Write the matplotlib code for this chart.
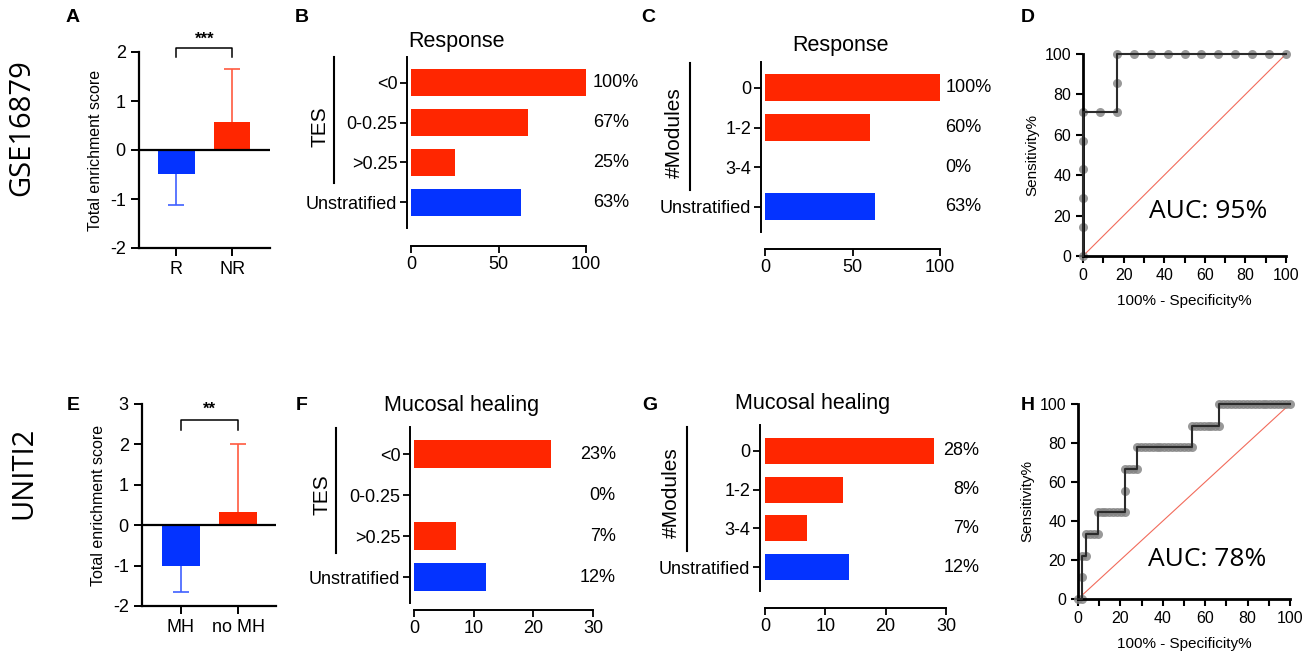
import numpy as np
import matplotlib.pyplot as plt
from matplotlib.lines import Line2D
from matplotlib.ticker import MultipleLocator

plt.rcParams['font.family'] = 'Liberation Sans'
plt.rcParams['axes.unicode_minus'] = False

BLUE = '#0433ff'
RED = '#ff2600'

# ---- panel A / E : total enrichment score ----
a_groups = ['R', 'NR']
a_means = [-0.48, 0.57]
a_err_lo = [0.65, 0.0]
a_err_hi = [0.0, 1.08]

e_groups = ['MH', 'no MH']
e_means = [-1.0, 0.32]
e_err_lo = [0.65, 0.0]
e_err_hi = [0.0, 1.68]

# ---- panels B, C, F, G : percentage responders ----
b_cats = ['<0', '0-0.25', '>0.25', 'Unstratified']
b_vals = [100, 67, 25, 63]
b_labels = ['100%', '67%', '25%', '63%']

c_cats = ['0', '1-2', '3-4', 'Unstratified']
c_vals = [100, 60, 0, 63]
c_labels = ['100%', '60%', '0%', '63%']

f_cats = ['<0', '0-0.25', '>0.25', 'Unstratified']
f_vals = [23, 0, 7, 12]
f_labels = ['23%', '0%', '7%', '12%']

g_cats = ['0', '1-2', '3-4', 'Unstratified']
g_vals = [28, 13, 7, 14]
g_labels = ['28%', '8%', '7%', '12%']

# ---- panels D, H : ROC curves ----
d_fpr = [0, 0, 0, 0, 0, 0, 8.3, 16.7, 16.7, 16.7, 25, 33.3, 41.7, 50, 58.3,
         66.7, 75, 83.3, 91.7, 100]
d_tpr = [0, 14.3, 28.6, 42.9, 57.1, 71.4, 71.4, 71.4, 85.7, 100, 100, 100,
         100, 100, 100, 100, 100, 100, 100, 100]

# counts of false / true positives (54 negatives, 9 positives)
h_fp = [0, 1, 1, 1, 2, 2, 3, 4, 5,
        5, 6, 7, 8, 9, 10, 11, 12,
        12, 12, 13, 14, 15,
        15, 16, 17, 18, 19, 20, 21, 22, 23, 24, 25, 26, 27, 28, 29,
        29, 30, 31, 32, 33, 34, 35, 36,
        36, 37, 38, 39, 40, 41, 42, 43, 44, 45, 46, 47, 48, 49, 50, 51, 52, 53, 54]
h_tp = [0, 0, 1, 2, 2, 3, 3, 3, 3,
        4, 4, 4, 4, 4, 4, 4, 4,
        5, 6, 6, 6, 6,
        7, 7, 7, 7, 7, 7, 7, 7, 7, 7, 7, 7, 7, 7, 7,
        8, 8, 8, 8, 8, 8, 8, 8,
        9, 9, 9, 9, 9, 9, 9, 9, 9, 9, 9, 9, 9, 9, 9, 9, 9, 9, 9]
h_neg, h_pos = 54, 9

W, H = 1314, 659
fig = plt.figure(figsize=(W / 100, H / 100), dpi=100)


def box(l, t, r, b):
    return [l / W, 1 - b / H, (r - l) / W, (b - t) / H]


def fx(x):
    return x / W


def fy(y):
    return 1 - y / H


def score_panel(rect, groups, means, lo, hi, ylim, xlim, stars, br_y, st_y):
    ax = fig.add_axes(rect)
    cols = [BLUE, RED]
    ecols = ['#4060ff', '#ff5a40']
    x = np.arange(len(groups))
    for i in x:
        eb = ax.errorbar(i, means[i], yerr=[[lo[i]], [hi[i]]], color=ecols[i],
                         lw=1.2, capsize=6, capthick=1.2, zorder=1)
        # only keep the cap at the end of the one-sided whisker
        caps = eb[1]
        if lo[i] == 0:
            caps[0].set_visible(False)
        if hi[i] == 0:
            caps[1].set_visible(False)
    ax.bar(x, means, width=0.66, color=cols, zorder=2)
    ax.axhline(0, color='black', lw=1.6, zorder=3)
    ax.set_xlim(*xlim)
    ax.set_ylim(*ylim)
    ax.set_xticks(x)
    ax.set_xticklabels(groups, fontsize=13)
    ax.set_yticks(np.arange(ylim[0], ylim[1] + 1))
    ax.tick_params(labelsize=13, width=1.4, length=6)
    for s in ['top', 'right']:
        ax.spines[s].set_visible(False)
    for s in ['left', 'bottom']:
        ax.spines[s].set_linewidth(1.6)
    ax.set_ylabel('Total enrichment score', fontsize=11.5, labelpad=5)
    ax.plot([0, 0, 1, 1], [br_y[0], br_y[1], br_y[1], br_y[0]], color='black',
            lw=1.1, clip_on=False)
    ax.text(0.5, st_y, stars, ha='center', va='center', fontsize=12,
            fontweight='bold', clip_on=False)
    return ax


score_panel(box(139, 52, 270, 248), a_groups, a_means, a_err_lo, a_err_hi,
            (-2, 2), (-0.67, 1.68), '***', (1.9, 2.08), 2.25)
score_panel(box(142, 404, 276, 606), e_groups, e_means, e_err_lo, e_err_hi,
            (-2, 3), (-0.67, 1.66), '**', (2.36, 2.6), 2.88)


def pct_panel(rect, cats, vals, labels, xmax, xticks, xleft, ylim, off_px,
              lab_x, ha, bar_h):
    ax = fig.add_axes(rect)
    y = np.arange(len(cats))
    cols = [RED] * (len(cats) - 1) + [BLUE]
    ax.barh(y, vals, height=bar_h, color=cols)
    for yi, lab in zip(y, labels):
        ax.text(lab_x, yi, lab, ha=ha, va='center', fontsize=13, clip_on=False)
    ax.set_xlim(xleft, xmax)
    ax.set_ylim(*ylim)
    ax.set_yticks(y)
    ax.set_yticklabels(cats, fontsize=13)
    ax.set_xticks(xticks)
    ax.tick_params(labelsize=13, width=1.3, length=5, pad=2)
    for s in ['top', 'right']:
        ax.spines[s].set_visible(False)
    for s in ['left', 'bottom']:
        ax.spines[s].set_linewidth(1.4)
    ax.spines['bottom'].set_bounds(0, xmax)
    ax.spines['bottom'].set_position(('outward', off_px * 0.72))
    return ax


pct_panel(box(407, 57, 586, 228), b_cats, b_vals, b_labels, 100, [0, 50, 100],
          -2.29, (3.65, -0.65), 18, 104, 'left', 0.68)
pct_panel(box(761, 62, 940, 232), c_cats, c_vals, c_labels, 100, [0, 50, 100],
          -2.29, (3.63, -0.65), 17, 103, 'left', 0.68)
pct_panel(box(410, 427, 593, 603), f_cats, f_vals, f_labels, 30, [0, 10, 20, 30],
          -0.67, (3.63, -0.66), 7, 33.8, 'right', 0.68)
pct_panel(box(760, 425, 946, 591), g_cats, g_vals, g_labels, 30, [0, 10, 20, 30],
          -0.83, (3.62, -0.67), 17, 35.5, 'right', 0.67)

# titles and group brackets
fig.text(fx(457), fy(42), 'Response', ha='center', va='center', fontsize=15.5)
fig.text(fx(840), fy(46), 'Response', ha='center', va='center', fontsize=15.5)
fig.text(fx(462), fy(405), 'Mucosal healing', ha='center', va='center', fontsize=15.5)
fig.text(fx(813), fy(403), 'Mucosal healing', ha='center', va='center', fontsize=15.5)

for x, y1, y2, lab, tx, ty in [(334, 57, 183, 'TES', 320, 127),
                               (690, 63, 190, '#Modules', 674, 133),
                               (336, 428, 553, 'TES', 322, 495),
                               (687, 427, 551, '#Modules', 671, 493)]:
    fig.add_artist(Line2D([fx(x), fx(x)], [fy(y1), fy(y2)], color='black', lw=1.5))
    fig.text(fx(tx), fy(ty), lab, rotation=90, ha='center', va='center', fontsize=15)


def roc_panel(rect, fpr, tpr, auc, auc_xy):
    ax = fig.add_axes(rect)
    ax.plot([0, 100], [0, 100], color='#f26b5b', lw=0.8, zorder=1)
    ax.plot(fpr, tpr, 'o', color='#808080', alpha=0.8, ms=6.5, mec='none',
            clip_on=False, zorder=2)
    ax.plot(fpr, tpr, '-', color='#2b2b2b', lw=1.5, clip_on=False, zorder=3)
    ax.set_xlim(0, 100)
    ax.set_ylim(0, 100)
    ax.xaxis.set_major_locator(MultipleLocator(20))
    ax.xaxis.set_minor_locator(MultipleLocator(10))
    ax.yaxis.set_major_locator(MultipleLocator(20))
    ax.tick_params(which='both', labelsize=11.5, width=1.5, length=5)
    for s in ['top', 'right']:
        ax.spines[s].set_visible(False)
    for s in ['left', 'bottom']:
        ax.spines[s].set_linewidth(2)
    ax.set_xlabel('100% - Specificity%', fontsize=11, labelpad=8)
    ax.set_ylabel('Sensitivity%', fontsize=11, labelpad=4)
    fig.text(fx(auc_xy[0]), fy(auc_xy[1]), auc, ha='center', va='center',
             fontsize=19, family='Open Sans')
    return ax


roc_panel(box(1083, 54, 1286, 256), d_fpr, d_tpr, 'AUC: 95%', (1208, 212))
h_fpr = [v / h_neg * 100 for v in h_fp]
h_tpr = [v / h_pos * 100 for v in h_tp]
roc_panel(box(1078, 404, 1290, 599), h_fpr, h_tpr, 'AUC: 78%', (1207, 560))

# row labels and panel letters
fig.text(fx(22), fy(128), 'GSE16879', rotation=90, ha='center', va='center',
         fontsize=21, family='Open Sans')
fig.text(fx(24), fy(473), 'UNITI2', rotation=90, ha='center', va='center',
         fontsize=21, family='Open Sans')

for lab, x, y in [('A', 73, 18), ('B', 302, 18), ('C', 648, 18), ('D', 1028, 18),
                  ('E', 73, 405), ('F', 302, 405), ('G', 650, 405), ('H', 1028, 405)]:
    fig.text(fx(x), fy(y), lab, ha='center', va='center', fontsize=14,
             fontweight='bold')

fig.savefig('out.png', dpi=100)
